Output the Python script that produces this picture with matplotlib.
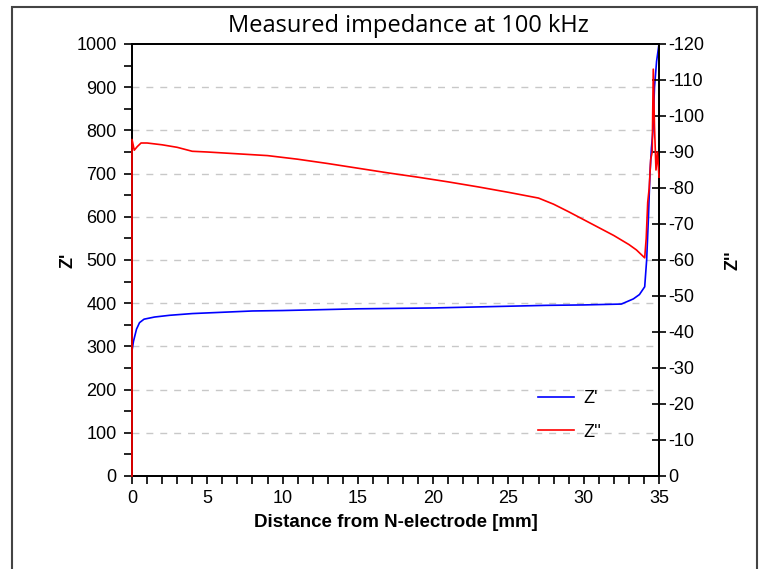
import matplotlib
matplotlib.use("Agg")
import matplotlib.pyplot as plt
from matplotlib.patches import Rectangle
from matplotlib.ticker import MultipleLocator

# Z' (real part), left axis
x_re = [0, 0.1, 0.3, 0.5, 0.8, 1.5, 2.5, 4, 6, 8, 10, 12.5, 15, 17.5, 20,
        22.5, 25, 27.5, 30, 32.5, 33.3, 33.7, 34.05, 34.18, 34.3, 34.4,
        34.5, 34.6, 34.7, 34.84, 35]
z_re = [290, 312, 340, 355, 363, 368, 372, 376, 379, 382, 383, 385, 387,
        388, 389, 391, 393, 395, 396, 398, 410, 420, 438, 500, 600, 700,
        760, 800, 900, 960, 1000]

# Z'' (imaginary part), right axis
x_im = [0, 0.0, 0.15, 0.35, 0.6, 1.0, 2.0, 3.0, 4.0, 5, 7, 9, 11, 13, 15,
        17, 19, 21, 23, 25, 27, 28, 29, 30, 31, 32, 33, 33.5, 34.05, 34.15,
        34.25, 34.35, 34.45, 34.55, 34.62, 34.7, 34.8, 34.9, 35]
z_im = [0, -93.5, -90.5, -91.5, -92.5, -92.5, -92, -91.3, -90.2, -90, -89.5,
        -89, -88, -86.8, -85.5, -84.2, -83, -81.7, -80.3, -78.8, -77.2, -75.5,
        -73.4, -71.2, -69, -66.8, -64.3, -62.8, -60.6, -66, -76, -80, -88, -90,
        -113, -97, -85, -90, -83]

plt.rcParams['font.family'] = ['Liberation Sans', 'DejaVu Sans']
plt.rcParams['axes.unicode_minus'] = False

fig = plt.figure(figsize=(7.65, 5.69), dpi=100)
ax = fig.add_axes([132 / 765, 1 - 476 / 569, 527 / 765, 432 / 569])
ax2 = ax.twinx()

l1, = ax.plot(x_re, z_re, color="#0000ff", lw=1.2, label="Z'")
l2, = ax2.plot(x_im, z_im, color="#ff0000", lw=1.2, label="Z''",
               zorder=3, clip_on=False)
ax2.set_zorder(ax.get_zorder() + 1)
ax2.patch.set_visible(False)

ax.set_xlim(0, 35)
ax.set_ylim(0, 1000)
ax2.set_ylim(0, -120)

# grid
for v in range(100, 1000, 100):
    ax.axhline(v, color="#c8c8c8", lw=1, ls=(0, (5, 5)), zorder=0)

ax.xaxis.set_major_locator(MultipleLocator(5))
ax.xaxis.set_minor_locator(MultipleLocator(1))
ax.yaxis.set_major_locator(MultipleLocator(100))
ax.yaxis.set_minor_locator(MultipleLocator(50))
ax2.yaxis.set_major_locator(MultipleLocator(10))

ax.tick_params(axis="both", which="major", direction="out", length=6,
               width=1.2, labelsize=13, pad=5)
ax.tick_params(axis="both", which="minor", direction="out", length=6,
               width=1.2)
ax2.tick_params(axis="y", direction="inout", length=10, width=1.2,
                labelsize=13, pad=2)
ax.tick_params(axis="x", pad=4)

for a in (ax, ax2):
    for s in a.spines.values():
        s.set_linewidth(1.3)

ax.set_xlabel("Distance from N-electrode [mm]", fontsize=13.5,
              fontweight="bold", labelpad=5)
ax.set_ylabel("Z'", fontsize=13, fontweight="bold", labelpad=0)
ax2.set_ylabel("Z''", fontsize=13, fontweight="bold", rotation=90,
               labelpad=14)

ax.legend(handles=[l1, l2], loc="center left", bbox_to_anchor=(0.74, 0.14),
          frameon=False, fontsize=13, handlelength=2.0, handletextpad=0.5,
          labelspacing=0.9)

fig.text(408 / 765, 1 - 26 / 569, "Measured impedance at 100 kHz",
         ha="center", va="center", fontsize=17, family="Open Sans")

fig.patches.append(Rectangle((12 / 765, -0.05), 745 / 765, 1.05 - 7 / 569,
                             transform=fig.transFigure, fill=False,
                             edgecolor="#444444", lw=1.5))

fig.savefig("out.png", dpi=100)
